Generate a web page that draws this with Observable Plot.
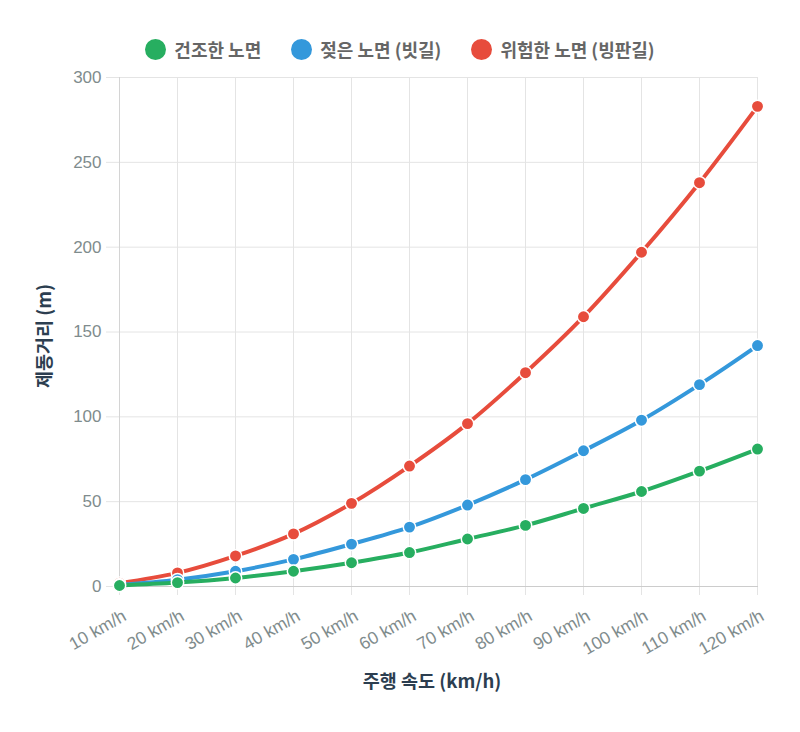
<!DOCTYPE html>
<html>
<head>
<meta charset="utf-8">
<script src="https://cdn.jsdelivr.net/npm/d3@7"></script>
<script src="https://cdn.jsdelivr.net/npm/@observablehq/plot@0.6"></script>
<style>
  body { margin: 0; background: #fff; font-family: "Liberation Sans", Arial, "Noto Sans CJK KR", sans-serif; }
  #wrap { width: 800px; }
  #legend { height: 70px; display: flex; justify-content: center; align-items: flex-end; gap: 30px; box-sizing: border-box; padding-bottom: 8px; padding-left: 0px; }
  .item { display: flex; align-items: center; gap: 8px; font-size: 18px; font-weight: bold; color: #666; font-family: "Noto Sans CJK KR", "Liberation Sans", sans-serif; }
  .sw { width: 21px; height: 21px; border-radius: 50%; display: inline-block; }
  svg { display: block; overflow: visible; }
</style>
</head>
<body>
<div id="wrap">
  <div id="legend"></div>
  <div id="chart"></div>
</div>
<script>
const speeds = ["10 km/h","20 km/h","30 km/h","40 km/h","50 km/h","60 km/h","70 km/h","80 km/h","90 km/h","100 km/h","110 km/h","120 km/h"];
const dry = [0.6, 2.3, 5, 9, 14, 20, 28, 36, 46, 56, 68, 81];
const wet = [1, 4, 9, 16, 25, 35, 48, 63, 80, 98, 119, 142];
const icy = [2, 8, 18, 31, 49, 71, 96, 126, 159, 197, 238, 283];
const seriesNames = ["건조한 노면", "젖은 노면 (빗길)", "위험한 노면 (빙판길)"];
const seriesColors = ["#27ae60", "#3498db", "#e74c3c"];
const yTicks = [0, 50, 100, 150, 200, 250, 300];

const seriesValues = [dry, wet, icy];
const legend = document.getElementById("legend");
seriesNames.forEach((n, i) => {
  const it = document.createElement("div");
  it.className = "item";
  it.innerHTML = `<span class="sw" style="background:${seriesColors[i]}"></span><span>${n}</span>`;
  legend.appendChild(it);
});

const seriesMarks = [];
for (let i = seriesValues.length - 1; i >= 0; i--) {
  const rows = speeds.map((s, j) => ({speed: s, value: seriesValues[i][j]}));
  seriesMarks.push(Plot.line(rows, {x: "speed", y: "value", stroke: seriesColors[i], strokeWidth: 4, curve: "catmull-rom"}));
  seriesMarks.push(Plot.dot(rows, {x: "speed", y: "value", r: 6.2, fill: seriesColors[i], stroke: "white", strokeWidth: 1.5}));
}

const chart = Plot.plot({
  width: 800,
  height: 662,
  marginTop: 7,
  marginBottom: 146,
  marginLeft: 117,
  marginRight: 42,
  style: {fontFamily: '"Liberation Sans", Arial, "Noto Sans CJK KR", sans-serif', overflow: "visible"},
  x: {type: "point", domain: speeds, padding: 0, label: null},
  y: {domain: [0, 300], label: null},
  marks: [
    Plot.ruleY(yTicks, {stroke: "#e4e4e4", strokeWidth: 1, insetLeft: -11}),
    Plot.ruleX(speeds, {stroke: "#e4e4e4", strokeWidth: 1, insetBottom: -9}),
    Plot.ruleY([0], {stroke: "#cccccc", strokeWidth: 1}),
    Plot.ruleX([speeds[0]], {stroke: "#d4d4d4", strokeWidth: 1}),
    Plot.axisY({ticks: yTicks, tickSize: 0, tickPadding: 16, fontSize: 17, fill: "#7f8c8d", label: null}),
    Plot.axisX({tickSize: 0, tickRotate: -30, tickPadding: 28, dx: 5, fontSize: 17.5, fill: "#7f8c8d", label: null}),
    Plot.text(["제동거리 (m)"], {frameAnchor: "left", textAnchor: "middle", dx: -72, dy: 4, rotate: -90, fontSize: 18.5, fontWeight: "bold", fill: "#2c3e50", fontFamily: '"Noto Sans CJK KR", "Liberation Sans", sans-serif'}),
    Plot.text(["주행 속도 (km/h)"], {frameAnchor: "bottom", dy: 101, dx: -6, fontSize: 18.5, fontWeight: "bold", fill: "#2c3e50", fontFamily: '"Noto Sans CJK KR", "Liberation Sans", sans-serif'}),
    ...seriesMarks
  ]
});
document.getElementById("chart").appendChild(chart);
</script>
</body>
</html>
